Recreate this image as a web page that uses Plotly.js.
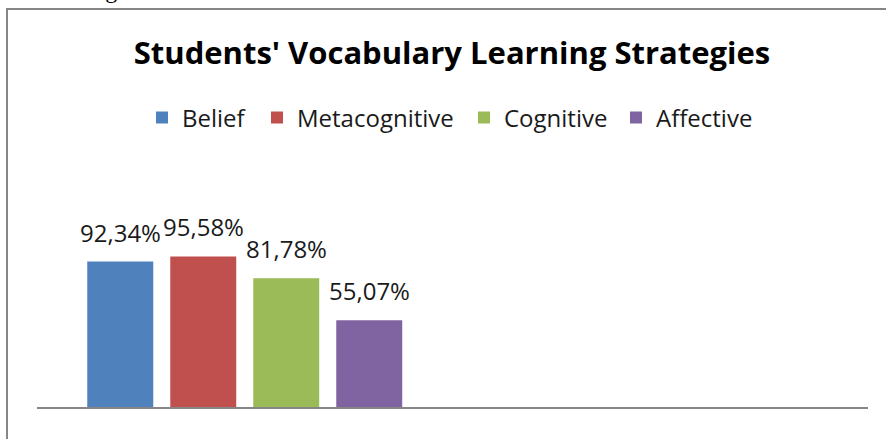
<!DOCTYPE html>
<html>
<head>
<meta charset="utf-8">
<script src="https://cdn.plot.ly/plotly-3.0.1.min.js"></script>
<style>html,body{margin:0;padding:0;background:#fff;}#chart{width:886px;height:439px;}</style>
</head>
<body>
<div id="chart"></div>
<script>
// ---- data ----
const categories = ["Group 1", "Group 2"];
const seriesNames = ["Belief", "Metacognitive", "Cognitive", "Affective"];
const seriesValues = [92.34, 95.58, 81.78, 55.07];
const valueLabels = ["92,34%", "95,58%", "81,78%", "55,07%"];
const chartTitle = "Students' Vocabulary Learning Strategies";

// ---- style ----
const colors = ["#4F81BD", "#C0504D", "#9BBB59", "#8064A2"];
const legendWidths = [70, 162, 107, 100];
const W = 886, H = 439;
const M = {l: 37, r: 18, t: 218, b: 32};
const plotW = W - M.l - M.r, plotH = H - M.t - M.b;
const bargap = 0.201, bargroupgap = 0.205;
const px2x = p => (p - M.l) / plotW;
const px2y = p => (H - M.b - p) / plotH;

const traces = seriesNames.map((name, i) => ({
  type: "bar",
  name: name,
  x: [categories[0]],
  y: [seriesValues[i]],
  marker: {color: colors[i]},
  legendwidth: legendWidths[i],
  hoverinfo: "none"
}));

const n = seriesNames.length;
const slot = (1 - bargap) / n;
const annotations = seriesValues.map((v, i) => ({
  xref: "x", yref: "y",
  x: 0 + (i - (n - 1) / 2) * slot,
  y: v,
  text: valueLabels[i],
  showarrow: false,
  xanchor: "center", yanchor: "bottom",
  yshift: 11,
  font: {family: "Open Sans", size: 24, color: "#1a1a1a"}
}));
annotations.push({
  xref: "paper", yref: "paper",
  x: px2x(22), y: px2y(5),
  xanchor: "left", yanchor: "bottom",
  text: "following data:",
  showarrow: false,
  font: {family: "Liberation Serif", size: 24, color: "#000"}
});

const layout = {
  width: W, height: H,
  margin: M,
  paper_bgcolor: "#fff", plot_bgcolor: "#fff",
  title: {
    text: "<b>" + chartTitle + "</b>",
    xref: "container", yref: "container",
    x: 452 / W, y: 1 - 53 / H,
    xanchor: "center", yanchor: "middle",
    font: {family: "Open Sans", size: 31, color: "#000"}
  },
  barmode: "group",
  bargap: bargap,
  bargroupgap: bargroupgap,
  xaxis: {
    type: "category",
    categoryorder: "array", categoryarray: categories,
    range: [-0.5, categories.length - 0.5],
    showline: true, linecolor: "#868686", linewidth: 2,
    showgrid: false, zeroline: false, ticks: "", showticklabels: false,
    fixedrange: true
  },
  yaxis: {
    range: [0, 120], visible: false, fixedrange: true
  },
  showlegend: true,
  legend: {
    orientation: "h",
    x: px2x(142), y: px2y(118),
    xanchor: "left", yanchor: "middle",
    font: {family: "Open Sans", size: 24, color: "#1a1a1a"},
    bgcolor: "rgba(0,0,0,0)"
  },
  annotations: annotations,
  shapes: [{
    type: "rect", xref: "paper", yref: "paper",
    x0: px2x(7), x1: px2x(892), y0: px2y(447), y1: px2y(9),
    line: {color: "#868686", width: 2}, fillcolor: "rgba(0,0,0,0)",
    layer: "below"
  }]
};

Plotly.newPlot("chart", traces, layout, {displayModeBar: false, staticPlot: true});
</script>
</body>
</html>
